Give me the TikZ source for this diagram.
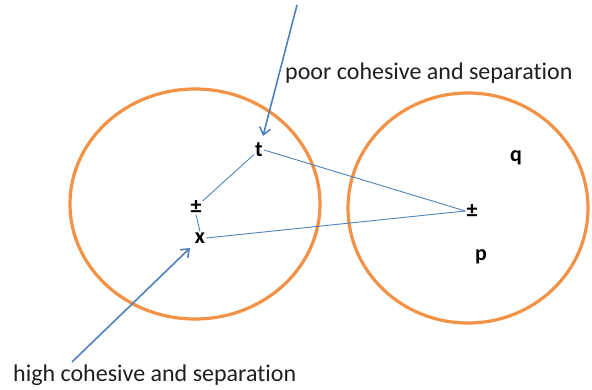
\documentclass[tikz,border=0pt]{standalone}
\usepackage{fontspec}
\setmainfont[Ligatures=NoCommon]{Carlito}
\usetikzlibrary{arrows.meta}
\definecolor{clorange}{RGB}{242,146,70}
\definecolor{clblue}{RGB}{79,129,189}
\newcommand{\noti}{t\kern0pt i}
\tikzset{
  cluster/.style={draw=clorange,line width=3.2pt},
  pt/.style={font=\bfseries\fontsize{22}{22}\selectfont,inner sep=1pt},
  link/.style={draw=clblue,line width=0.9pt},
  pointer/.style={draw=clblue,line width=1.6pt,-{Straight Barb[length=7pt,width=11pt]}},
  lbl/.style={font=\fontsize{24}{24}\selectfont,inner sep=0pt,anchor=base west,text=black!88}
}
\begin{document}
\begin{tikzpicture}[x=1pt,y=-1pt]
\useasboundingbox (0,0) rectangle (592,390);
\draw[cluster] (195,204) ellipse [x radius=125, y radius=115];
\draw[cluster] (468,208) ellipse [x radius=120, y radius=115];
\node[pt] (t) at (259,150) {t};
\node[pt] (pm1) at (196,207) {±};
\node[pt] (x) at (200,238) {x};
\node[pt] (pm2) at (472,211) {±};
\node[pt] (q) at (516,158) {q};
\node[pt] (p) at (481,257) {p};
\draw[link] (pm1) -- (t);
\draw[link] (pm1.south) -- (x.north);
\draw[link] (t.east) -- (pm2.west);
\draw[link] (x.east) -- (pm2.west);
\coordinate (s1) at (297,5);
\coordinate (s2) at (72,362);
\coordinate (e1) at (263,136);
\coordinate (e2) at (190,248);
\draw[pointer] (s1) -- (e1);
\draw[pointer] (s2) -- (e2);
\node[lbl] (poor) at (285,80) {poor cohesive and separa\noti on};
\node[lbl] (high) at (13,381) {high cohesive and separa\noti on};
\end{tikzpicture}
\end{document}
